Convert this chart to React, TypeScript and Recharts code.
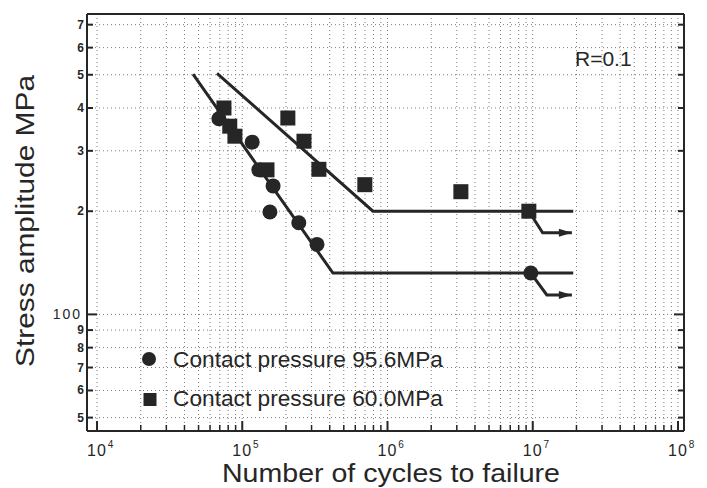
import React from 'react';
import { ComposedChart, Scatter, XAxis, YAxis, CartesianGrid, Legend } from 'recharts';

// ---- data ----
const X_DECADES = [1e4, 1e5, 1e6, 1e7];
const X_MULTS = [1, 2, 3, 4, 5, 6, 7, 8, 9];
const X_TICKS = [...X_DECADES.flatMap((d) => X_MULTS.map((m) => m * d)), 1e8];
const X_DOMAIN = [8530, 1.1e8];
const Y_TICKS = [50, 60, 70, 80, 90, 100, 200, 300, 400, 500, 600, 700];
const Y_DOMAIN = [45.7, 752];

const circlePts = [
  { x: 69000, y: 372 },
  { x: 117000, y: 318 },
  { x: 130000, y: 264 },
  { x: 163000, y: 237 },
  { x: 155000, y: 199 },
  { x: 245000, y: 185 },
  { x: 327000, y: 160 },
  { x: 9.7e6, y: 132 },
];
const squarePts = [
  { x: 74800, y: 400 },
  { x: 82000, y: 354 },
  { x: 89000, y: 331 },
  { x: 148000, y: 264 },
  { x: 206000, y: 374 },
  { x: 266000, y: 320 },
  { x: 337000, y: 265 },
  { x: 698000, y: 239 },
  { x: 3.2e6, y: 228 },
  { x: 9.4e6, y: 200 },
];
const squareLine = [
  { x: 67000, y: 505 },
  { x: 794000, y: 200 },
  { x: 1.9e7, y: 200 },
];
const circleLine = [
  { x: 45800, y: 502 },
  { x: 421000, y: 132 },
  { x: 1.9e7, y: 132 },
];
const squareArrow = [
  { x: 9.4e6, y: 200 },
  { x: 1.17e7, y: 173 },
  { x: 1.86e7, y: 173 },
];
const circleArrow = [
  { x: 9.7e6, y: 132 },
  { x: 1.25e7, y: 114 },
  { x: 1.86e7, y: 114 },
];
const LEGEND_LABELS = ['Contact pressure  95.6MPa', 'Contact pressure  60.0MPa'];
const R_LABEL = 'R=0.1';
const X_TITLE = 'Number of cycles to failure';
const Y_TITLE = 'Stress amplitude  MPa';

const INK = '#262626';
const FONT = '"Liberation Sans", Arial, Helvetica, sans-serif';

const isMajor = (v: number) => Math.abs(Math.log10(v) - Math.round(Math.log10(v))) < 1e-6;

const BottomTick = (props: any) => {
  const { x, y, payload } = props;
  const v = payload.value;
  const major = isMajor(v);
  const e = Math.round(Math.log10(v));
  return (
    <g>
      <line x1={x} y1={y} x2={x} y2={y - (major ? 10 : 6)} stroke={INK} strokeWidth={major ? 2 : 1.5} />
      {major && (
        <text x={x - 10} y={y + 25} fontFamily={FONT} fontSize={16} fill={INK} letterSpacing={1}>
          10
          <tspan dx={1} dy={-8} fontSize={10}>
            {e}
          </tspan>
        </text>
      )}
    </g>
  );
};

const TopTick = (props: any) => {
  const { x, y, payload } = props;
  const major = isMajor(payload.value);
  return <line x1={x} y1={y} x2={x} y2={y + (major ? 10 : 6)} stroke={INK} strokeWidth={major ? 2 : 1.5} />;
};

const LeftTick = (props: any) => {
  const { x, y, payload } = props;
  const v = payload.value;
  const major = isMajor(v);
  const label = v === 100 ? '100' : String(Math.round(v / Math.pow(10, Math.floor(Math.log10(v)))));
  return (
    <g>
      <line x1={x} y1={y} x2={x + (major ? 10 : 6)} y2={y} stroke={INK} strokeWidth={2} />
      {major ? (
        <text x={x - 5} y={y + 5} textAnchor="end" fontFamily={FONT} fontSize={14} fill={INK} letterSpacing={2}>
          {label}
        </text>
      ) : (
        <text x={x - 3} y={y + 4} textAnchor="end" fontFamily={FONT} fontSize={12} fontWeight="bold" fill={INK}>
          {label}
        </text>
      )}
    </g>
  );
};

const RightTick = (props: any) => {
  const { x, y, payload } = props;
  const major = isMajor(payload.value);
  return <line x1={x} y1={y} x2={x - (major ? 10 : 6)} y2={y} stroke={INK} strokeWidth={2} />;
};

const CircleShape = (p: any) => <circle cx={p.cx} cy={p.cy} r={7.5} fill={INK} />;
const SquareShape = (p: any) => <rect x={p.cx - 7.5} y={p.cy - 7.5} width={15} height={15} fill={INK} />;
const NoShape = () => <g />;
const makeArrowHead = (arr: { x: number; y: number }[]) => (p: any) => {
  const last = arr[arr.length - 1];
  if (!p.payload || p.payload.x !== last.x) return <g />;
  return <polygon points={`${p.cx},${p.cy} ${p.cx - 13},${p.cy - 4} ${p.cx - 13},${p.cy + 4}`} fill={INK} />;
};

const XTitle = () => (
  <text x={391} y={482} textAnchor="middle" fontFamily={FONT} fontSize={25} fill={INK} textLength={338} lengthAdjust="spacingAndGlyphs">
    {X_TITLE}
  </text>
);
const YTitle = () => (
  <text x={34} y={221} transform="rotate(-90, 34, 221)" textAnchor="middle" fontFamily={FONT} fontSize={26} fill={INK} textLength={292} lengthAdjust="spacingAndGlyphs">
    {Y_TITLE}
  </text>
);
const RTitle = () => (
  <text x={575} y={66} fontFamily={FONT} fontSize={21} fill={INK}>
    {R_LABEL}
  </text>
);

const LegendContent = () => (
  <svg width={360} height={80} style={{ overflow: 'visible' }}>
    <circle cx={29} cy={19} r={7} fill={INK} />
    <rect x={23.5} y={53} width={13} height={13} fill={INK} />
    <text x={53} y={27} fontFamily={FONT} fontSize={22} fill={INK} textLength={270} lengthAdjust="spacingAndGlyphs">
      {LEGEND_LABELS[0]}
    </text>
    <text x={53} y={66} fontFamily={FONT} fontSize={22} fill={INK} textLength={270} lengthAdjust="spacingAndGlyphs">
      {LEGEND_LABELS[1]}
    </text>
  </svg>
);

export default function App() {
  return (
    <div style={{ position: 'absolute', left: 0, top: 0, width: 707, height: 488, background: '#fff' }}>
      <ComposedChart width={707} height={488} margin={{ top: 0, right: 0, bottom: 0, left: 0 }}>
        <CartesianGrid xAxisId="b" yAxisId="l" stroke="#7a7a7a" strokeDasharray="1 3" />
        <XAxis
          xAxisId="b"
          dataKey="x"
          type="number"
          scale="log"
          domain={X_DOMAIN}
          ticks={X_TICKS}
          allowDataOverflow
          height={57}
          tickSize={0}
          tickMargin={0}
          tickLine={false}
          tick={<BottomTick />}
          interval={0}
          axisLine={{ stroke: INK, strokeWidth: 2 }}
          label={XTitle}
        />
        <XAxis
          xAxisId="t"
          orientation="top"
          type="number"
          scale="log"
          domain={X_DOMAIN}
          ticks={X_TICKS}
          allowDataOverflow
          height={14}
          tickSize={0}
          tickMargin={0}
          tickLine={false}
          tick={<TopTick />}
          interval={0}
          axisLine={{ stroke: INK, strokeWidth: 2 }}
          label={RTitle}
        />
        <YAxis
          yAxisId="l"
          dataKey="y"
          type="number"
          scale="log"
          domain={Y_DOMAIN}
          ticks={Y_TICKS}
          allowDataOverflow
          width={87}
          tickSize={0}
          tickMargin={0}
          tickLine={false}
          tick={<LeftTick />}
          interval={0}
          axisLine={{ stroke: INK, strokeWidth: 2 }}
          label={YTitle}
        />
        <YAxis
          yAxisId="r"
          orientation="right"
          type="number"
          scale="log"
          domain={Y_DOMAIN}
          ticks={Y_TICKS}
          allowDataOverflow
          width={23}
          tickSize={0}
          tickMargin={0}
          tickLine={false}
          tick={<RightTick />}
          interval={0}
          axisLine={{ stroke: INK, strokeWidth: 2 }}
        />
        <Scatter xAxisId="b" yAxisId="l" data={squareLine} line={{ stroke: INK, strokeWidth: 3 }} shape={NoShape} isAnimationActive={false} legendType="none" />
        <Scatter xAxisId="b" yAxisId="l" data={circleLine} line={{ stroke: INK, strokeWidth: 3 }} shape={NoShape} isAnimationActive={false} legendType="none" />
        <Scatter xAxisId="b" yAxisId="l" data={squareArrow} line={{ stroke: INK, strokeWidth: 3 }} shape={makeArrowHead(squareArrow)} isAnimationActive={false} legendType="none" />
        <Scatter xAxisId="b" yAxisId="l" data={circleArrow} line={{ stroke: INK, strokeWidth: 3 }} shape={makeArrowHead(circleArrow)} isAnimationActive={false} legendType="none" />
        <Scatter xAxisId="b" yAxisId="l" name={LEGEND_LABELS[0]} data={circlePts} shape={CircleShape} isAnimationActive={false} />
        <Scatter xAxisId="b" yAxisId="l" name={LEGEND_LABELS[1]} data={squarePts} shape={SquareShape} isAnimationActive={false} />
        <Legend
          layout="vertical"
          align="center"
          verticalAlign="middle"
          content={<LegendContent />}
          wrapperStyle={{ left: 120, top: 340, width: 360, height: 80 }}
        />
      </ComposedChart>
    </div>
  );
}
